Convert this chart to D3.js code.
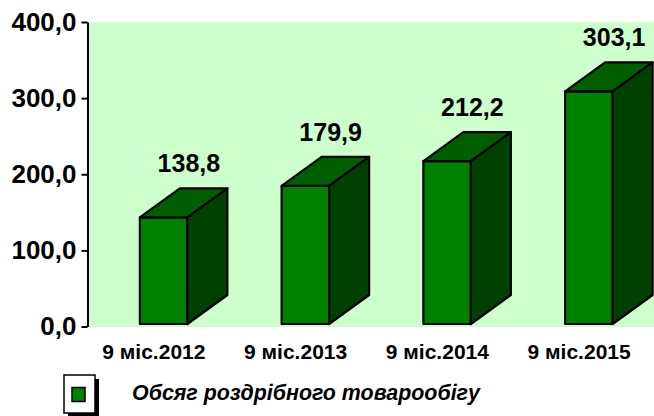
<!DOCTYPE html>
<html>
<head>
<meta charset="utf-8">
<script src="https://cdn.jsdelivr.net/npm/d3@7"></script>
<style>
  body { margin: 0; background: #fff; }
  svg { display: block; }
  text { font-family: "Liberation Sans", Arial, sans-serif; font-weight: bold; fill: #000; }
</style>
</head>
<body>
<div id="chart"></div>
<script>
const categories = ["9 міс.2012", "9 міс.2013", "9 міс.2014", "9 міс.2015"];
const values = [138.8, 179.9, 212.2, 303.1];
const valueLabels = ["138,8", "179,9", "212,2", "303,1"];
const yTicks = [0, 100, 200, 300, 400];
const seriesName = "Обсяг роздрібного товарообігу";

const width = 654, height = 416;

const svg = d3.select("#chart").append("svg")
    .attr("width", width)
    .attr("height", height);

// plot area background
svg.append("rect")
    .attr("x", 88).attr("y", 22)
    .attr("width", width - 88).attr("height", 305)
    .attr("fill", "#ccffcc");

const y = d3.scaleLinear().domain([0, 400]).range([326.5, 22]);
// front face of the 3d columns sits a bit higher than the axis
const yBar = d3.scaleLinear().domain([0, 400]).range([324, 17]);
const x = d3.scaleBand().domain(categories).range([83, 650]);

const barW = 47.5, dx = 40, dy = 29;

const data = categories.map((c, i) => ({ cat: c, value: values[i], label: valueLabels[i] }));

const bars = svg.append("g")
    .selectAll("g")
    .data(data)
    .enter()
    .append("g")
    .attr("stroke", "#000")
    .attr("stroke-width", 2.2)
    .attr("stroke-linejoin", "round");

const fx = d => x(d.cat) + x.bandwidth() / 2 - 14;

bars.append("rect")
    .attr("x", fx)
    .attr("y", d => yBar(d.value))
    .attr("width", barW)
    .attr("height", d => yBar(0) - yBar(d.value))
    .attr("fill", "#008000");

bars.append("path")
    .attr("fill", "#005e00")
    .attr("d", d => {
        const l = fx(d), t = yBar(d.value);
        return `M${l},${t}L${l + dx},${t - dy}L${l + barW + dx},${t - dy}L${l + barW},${t}Z`;
    });

bars.append("path")
    .attr("fill", "#004000")
    .attr("d", d => {
        const r = fx(d) + barW, t = yBar(d.value), b = yBar(0);
        return `M${r},${t}L${r + dx},${t - dy}L${r + dx},${b - dy}L${r},${b}Z`;
    });

// value labels
svg.append("g")
    .selectAll("text")
    .data(data)
    .enter()
    .append("text")
    .attr("x", d => fx(d) + 49)
    .attr("y", d => yBar(d.value) - dy - 16)
    .attr("text-anchor", "middle")
    .attr("font-size", 25)
    .text(d => d.label);

// y axis
const yAxis = svg.append("g")
    .attr("transform", "translate(87.5,0)")
    .call(d3.axisLeft(y)
        .tickValues(yTicks)
        .tickSize(6)
        .tickSizeOuter(0)
        .tickPadding(5)
        .tickFormat(d => d3.format(".1f")(d).replace(".", ",")));

yAxis.select(".domain").attr("stroke", "#000").attr("stroke-width", 2);
yAxis.selectAll(".tick line").attr("stroke", "#000").attr("stroke-width", 2);
yAxis.selectAll(".tick text")
    .attr("font-family", "Liberation Sans, Arial, sans-serif")
    .attr("font-weight", "bold")
    .attr("font-size", 26)
    .attr("fill", "#000");

// category labels
svg.append("g")
    .selectAll("text")
    .data(categories)
    .enter()
    .append("text")
    .attr("x", d => x(d) + x.bandwidth() / 2)
    .attr("y", 359)
    .attr("text-anchor", "middle")
    .attr("font-size", 21)
    .text(d => d);

// legend
const legend = svg.append("g");
legend.append("rect")
    .attr("x", 68).attr("y", 379).attr("width", 31).attr("height", 38)
    .attr("fill", "#000");
legend.append("rect")
    .attr("x", 64).attr("y", 375).attr("width", 31).attr("height", 38)
    .attr("fill", "#fff").attr("stroke", "#000").attr("stroke-width", 1.5);
legend.append("rect")
    .attr("x", 72).attr("y", 387.5).attr("width", 13).attr("height", 14)
    .attr("fill", "#008000").attr("stroke", "#000").attr("stroke-width", 1.5);
legend.append("text")
    .attr("x", 132)
    .attr("y", 400)
    .attr("font-size", 21.4)
    .attr("font-style", "italic")
    .text(seriesName);
</script>
</body>
</html>
